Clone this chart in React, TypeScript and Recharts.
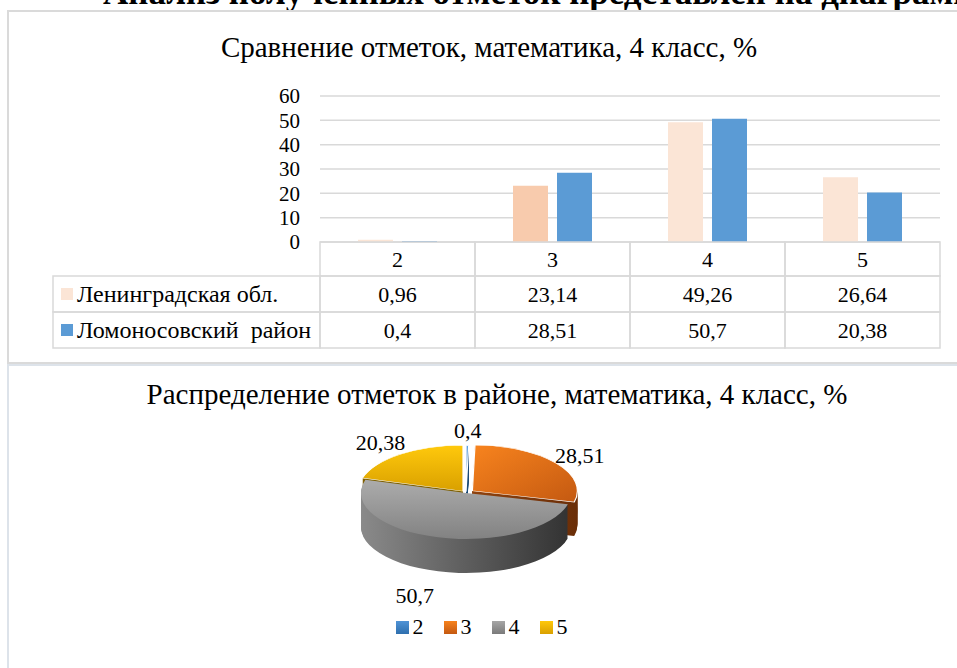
import React from 'react';
import { BarChart, Bar, XAxis, YAxis, CartesianGrid, Cell, PieChart, Pie } from 'recharts';

const grades = ['2', '3', '4', '5'];
const leningrad = [0.96, 23.14, 49.26, 26.64];
const lomonosov = [0.4, 28.51, 50.7, 20.38];
const seriesNames = ['Ленинградская обл.', 'Ломоносовский  район'];
const yTicks = [0, 10, 20, 30, 40, 50, 60];
const pieValues = [0.4, 28.51, 50.7, 20.38];

const heading = 'Анализ полученных отметок представлен на диаграмме';
const barTitle = 'Сравнение отметок, математика, 4 класс, %';
const pieTitle = 'Распределение отметок в районе, математика, 4 класс, %';

const FONT = "'Liberation Serif', Tinos, 'DejaVu Serif', 'Times New Roman', serif";
const GRID = '#d9d9d9';
const LEN_COLORS = ['#fbe5d6', '#f8cbad', '#fbe5d6', '#fbe5d6'];
const LOM_COLOR = '#5b9bd5';
const ROW_H = [34, 36, 36];
const LEGEND_COL_W = 267;

// 3d pie look: css squash + stacked layers
const K = 0.438;
const PIE_TOP = 398;
const PIE_CX = 466;
const PIE_CY = 493;
const PIE_R = 105;
const DEPTH = 34;
const EXPLODE = [3, 8, 0, 5];
const DRAW_ORDER = [0, 1, 3, 2];
const TOP_FILL = ['url(#topBlue)', 'url(#topOrange)', 'url(#topGray)', 'url(#topYellow)'];
const SIDE_FILL = ['#1f4e79', 'url(#sideOrange)', 'url(#sideGray)', '#7f6000'];
const LEGEND_BG = [
  'linear-gradient(#4f93d6, #2e6fae)',
  'linear-gradient(#f7821c, #c45911)',
  'linear-gradient(#a6a6a6, #7a7a7a)',
  'linear-gradient(#ffc80a, #d9a000)',
];

const fmt = (v: number) => String(v).replace('.', ',');

const barData = grades.map((g, i) => ({ grade: g, len: leningrad[i], lom: lomonosov[i] }));
const pieData = grades.map((g, i) => ({ name: g, value: pieValues[i] }));

const total = pieValues.reduce((a, b) => a + b, 0);
const midAngles = pieValues.map((v, i) => {
  const before = pieValues.slice(0, i).reduce((a, b) => a + b, 0);
  return ((before + v / 2) / total) * 360;
});

function TableTick(props: any) {
  const { x, y, payload, index } = props;
  const half = payload.offset || 77.5;
  const i = grades.indexOf(String(payload.value));
  const rows = [String(payload.value), fmt(leningrad[i]), fmt(lomonosov[i])];
  let top = y;
  const cells = rows.map((txt, r) => {
    const cy = top;
    top += ROW_H[r];
    return (
      <g key={r}>
        <rect x={x - half} y={cy} width={half * 2} height={ROW_H[r]} fill="none" stroke={GRID} strokeWidth={1.5} />
        <text x={x} y={cy + ROW_H[r] / 2} textAnchor="middle" dominantBaseline="central"
          fontSize={22} fontFamily={FONT} fill="#000">{txt}</text>
      </g>
    );
  });
  let legend = null;
  if (index === 0) {
    const lx = x - half - LEGEND_COL_W;
    legend = seriesNames.map((name, r) => {
      const ry = y + ROW_H[0] + (r === 0 ? 0 : ROW_H[1]);
      const h = ROW_H[r + 1];
      return (
        <g key={'l' + r}>
          <rect x={lx} y={ry} width={LEGEND_COL_W} height={h} fill="none" stroke={GRID} strokeWidth={1.5} />
          <rect x={lx + 8} y={ry + h / 2 - 6} width={12} height={12} fill={r === 0 ? LEN_COLORS[0] : LOM_COLOR} />
          <text x={lx + 24} y={ry + h / 2} dominantBaseline="central" fontSize={24} fontFamily={FONT}
            fill="#000" style={{ whiteSpace: 'pre' }}>{name}</text>
        </g>
      );
    });
  }
  return <g>{cells}{legend}</g>;
}

const RAD = Math.PI / 180;
function pieLabel(props: any) {
  const { cx, cy, midAngle, outerRadius, value } = props;
  const a = -midAngle * RAD;
  const r = outerRadius + 38;
  const s = Math.sin(a);
  const x = cx + r * Math.cos(a) - (s > 0 ? s * 14 : 0);
  const y = cy + r * s + (s > 0 ? (s * (DEPTH + 10)) / K : 0);
  return (
    <text transform={`translate(${x},${y}) scale(1,${1 / K})`} textAnchor="middle" dominantBaseline="central"
      fontSize={22} fontFamily={FONT} fill="#000">{fmt(value)}</text>
  );
}

function slicePie(i: number, depth: number, fill: string, key: string, stroke = 'none') {
  const m = midAngles[i] * RAD;
  const dx = EXPLODE[i] * Math.sin(m);
  const dy = -EXPLODE[i] * Math.cos(m);
  return (
    <Pie key={key} data={pieData} dataKey="value" cx={PIE_CX + dx} cy={(PIE_CY - PIE_TOP) / K + dy + depth / K}
      outerRadius={PIE_R} startAngle={90} endAngle={-270} isAnimationActive={false}
      stroke="none" label={false} labelLine={false}>
      {pieData.map((_, j) => (
        <Cell key={j} fill={j === i ? fill : 'transparent'} stroke={j === i ? stroke : 'none'} strokeWidth={1.2} />
      ))}
    </Pie>
  );
}

export default function App() {
  const layers: React.ReactNode[] = [];
  for (let d = DEPTH; d >= 1; d--) {
    DRAW_ORDER.forEach(i => layers.push(slicePie(i, d, SIDE_FILL[i], `s${d}-${i}`)));
  }
  DRAW_ORDER.forEach(i => layers.push(slicePie(i, 0, TOP_FILL[i], `t${i}`, i === 2 ? 'none' : '#ffffff')));

  return (
    <div style={{ position: 'absolute', left: 0, top: 0, width: 957, height: 668, overflow: 'hidden', background: '#fff', fontFamily: FONT }}>
      <div style={{ position: 'absolute', left: 103, top: -25, fontSize: 35, lineHeight: '35px', fontWeight: 'bold', whiteSpace: 'nowrap' }}>
        {heading}
      </div>

      <div style={{ position: 'absolute', left: 7, top: 10, width: 970, height: 350, border: '2px solid #dadada' }} />
      <div style={{ position: 'absolute', left: 7, top: 364, width: 970, height: 400, border: '2px solid #dde3ea' }} />

      <div style={{ position: 'absolute', left: 0, top: 30, width: 978, textAlign: 'center', fontSize: 29, lineHeight: '34px' }}>
        {barTitle}
      </div>

      <div style={{ position: 'absolute', left: 0, top: 0 }}>
        <BarChart width={957} height={362} data={barData} margin={{ top: 96, right: 17, left: 0, bottom: 13 }}
          barSize={35} barGap={9}>
          <CartesianGrid vertical={false} stroke={GRID} strokeWidth={1.5} />
          <YAxis width={320} domain={[0, 60]} ticks={yTicks} interval={0} axisLine={false} tickLine={false}
            tickSize={0} tickMargin={20} tick={{ fontSize: 21, fontFamily: FONT, fill: '#000' }} />
          <XAxis dataKey="grade" height={107} axisLine={false} tickLine={false} tickSize={0} tickMargin={0}
            interval={0} tick={<TableTick />} />
          <Bar dataKey="len" isAnimationActive={false}>
            {barData.map((_, i) => <Cell key={i} fill={LEN_COLORS[i]} />)}
          </Bar>
          <Bar dataKey="lom" fill={LOM_COLOR} isAnimationActive={false} />
        </BarChart>
      </div>

      <div style={{ position: 'absolute', left: 0, top: 377, width: 994, textAlign: 'center', fontSize: 29, lineHeight: '34px' }}>
        {pieTitle}
      </div>

      <div style={{ position: 'absolute', left: 0, top: PIE_TOP, transform: `scaleY(${K})`, transformOrigin: '0 0' }}>
        <PieChart width={957} height={560} margin={{ top: 0, right: 0, bottom: 0, left: 0 }}>
          <defs>
            <linearGradient id="topBlue" x1="0" y1="0" x2="0" y2="1">
              <stop offset="0%" stopColor="#5fa2e0" />
              <stop offset="100%" stopColor="#2e6fae" />
            </linearGradient>
            <linearGradient id="topOrange" x1="0" y1="0" x2="1" y2="1">
              <stop offset="0%" stopColor="#f8841e" />
              <stop offset="100%" stopColor="#c45911" />
            </linearGradient>
            <linearGradient id="topGray" x1="0" y1="0" x2="0" y2="1">
              <stop offset="0%" stopColor="#acacac" />
              <stop offset="100%" stopColor="#828282" />
            </linearGradient>
            <linearGradient id="topYellow" x1="0" y1="0" x2="0" y2="1">
              <stop offset="0%" stopColor="#ffc90c" />
              <stop offset="100%" stopColor="#d9a000" />
            </linearGradient>
            <linearGradient id="sideGray" x1="0" y1="0" x2="1" y2="0">
              <stop offset="0%" stopColor="#8a8a8a" />
              <stop offset="55%" stopColor="#5a5a5a" />
              <stop offset="100%" stopColor="#333333" />
            </linearGradient>
            <linearGradient id="sideOrange" x1="0" y1="0" x2="1" y2="0">
              <stop offset="0%" stopColor="#8f430f" />
              <stop offset="100%" stopColor="#6a2e08" />
            </linearGradient>
          </defs>
          {layers}
          <Pie data={pieData} dataKey="value" cx={PIE_CX} cy={(PIE_CY - PIE_TOP) / K} outerRadius={PIE_R}
            startAngle={90} endAngle={-270} isAnimationActive={false} stroke="none"
            label={pieLabel} labelLine={false}>
            {pieData.map((_, j) => <Cell key={j} fill="transparent" />)}
          </Pie>
        </PieChart>
      </div>

      <div style={{ position: 'absolute', left: 0, top: 612, width: 957, display: 'flex', justifyContent: 'center', paddingLeft: 3 }}>
        {grades.map((g, i) => (
          <div key={g} style={{ display: 'flex', alignItems: 'center', marginRight: i < grades.length - 1 ? 20 : 0, fontSize: 22, lineHeight: '30px' }}>
            <span style={{ display: 'inline-block', width: 13, height: 13, background: LEGEND_BG[i], marginRight: 4 }} />
            {g}
          </div>
        ))}
      </div>
    </div>
  );
}
